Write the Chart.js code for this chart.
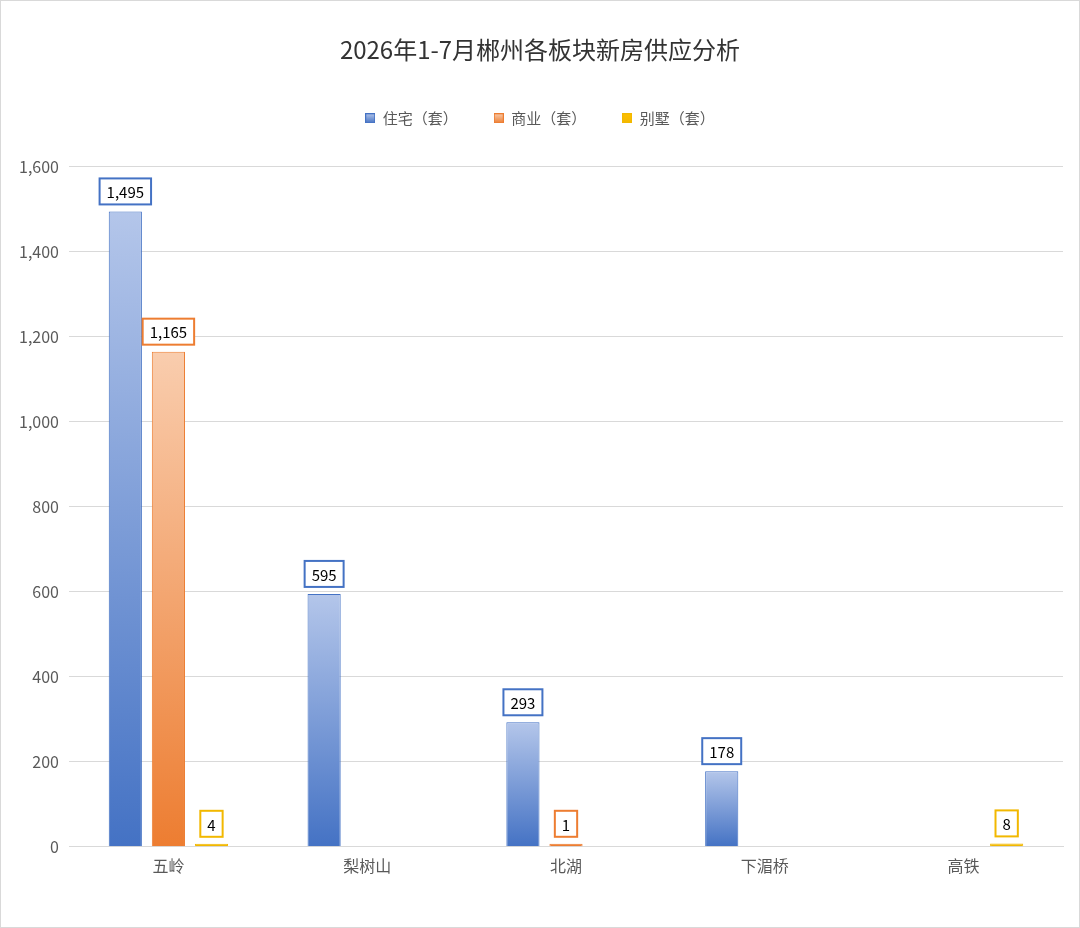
<!DOCTYPE html>
<html>
<head>
<meta charset="utf-8">
<script src="https://cdn.jsdelivr.net/npm/chart.js@4.4.1/dist/chart.umd.min.js"></script>
<style>
    html, body { margin: 0; padding: 0; background: #fff; }
    #wrap { width: 1078px; height: 926px; border: 1px solid #d9d9d9; }
</style>
</head>
<body>
<div id="wrap"><canvas id="supplyChart" width="1078" height="926"></canvas></div>
<script>
// Categories (board areas) and series values
const areas = ['五岭', '梨树山', '北湖', '下湄桥', '高铁'];
const residential = [1495, 595, 293, 178, null];   // 住宅（套）
const commercial = [1165, null, 1, null, null];    // 商业（套）
const villa = [4, null, null, null, 8];            // 别墅（套）
const yTicks = [0, 200, 400, 600, 800, 1000, 1200, 1400, 1600];

const FONT = '"Noto Sans CJK SC", "Noto Sans", sans-serif';

// Per-bar vertical gradient, light at top, full colour at the base
function barGradient(light, dark) {
    return function (context) {
        const chart = context.chart;
        const yScale = chart.scales.y;
        if (!chart.chartArea || !yScale || context.raw == null) return dark;
        const top = yScale.getPixelForValue(context.raw);
        const base = yScale.getPixelForValue(0);
        if (base - top < 4) return dark;
        const g = chart.ctx.createLinearGradient(0, top, 0, base);
        g.addColorStop(0, light);
        g.addColorStop(1, dark);
        return g;
    };
}

// Boxed value labels above each bar
const boxLabels = {
    id: 'boxLabels',
    afterDatasetsDraw(chart) {
        const ctx = chart.ctx;
        ctx.save();
        ctx.font = '15px ' + FONT;
        ctx.textAlign = 'center';
        ctx.textBaseline = 'middle';
        chart.data.datasets.forEach((ds, i) => {
            const meta = chart.getDatasetMeta(i);
            meta.data.forEach((bar, j) => {
                const v = ds.data[j];
                if (v == null) return;
                const text = v.toLocaleString('en-US');
                const w = ctx.measureText(text).width + 14;
                const h = 26;
                const x = bar.x - w / 2;
                const y = bar.y - 7 - h;
                ctx.fillStyle = '#fff';
                ctx.fillRect(x, y, w, h);
                ctx.strokeStyle = ds.labelBorder;
                ctx.lineWidth = 2;
                ctx.strokeRect(x, y, w, h);
                ctx.fillStyle = '#000';
                ctx.fillText(text, bar.x, y + h / 2 + 1);
            });
        });
        ctx.restore();
    }
};

// Extra room between the legend and the plot area
const legendGap = {
    id: 'legendGap',
    beforeInit(chart) {
        const origFit = chart.legend.fit;
        chart.legend.fit = function () {
            origFit.bind(chart.legend)();
            this.height += 31;
        };
    }
};

function legendSwatch(light, dark) {
    const c = document.createElement('canvas');
    c.width = 10; c.height = 10;
    const x = c.getContext('2d');
    const g = x.createLinearGradient(0, 0, 0, 10);
    g.addColorStop(0, light);
    g.addColorStop(1, dark);
    x.fillStyle = g;
    x.fillRect(0, 0, 10, 10);
    x.strokeStyle = dark;
    x.lineWidth = 1;
    x.strokeRect(0.5, 0.5, 9, 9);
    return c;
}

const ctx = document.getElementById('supplyChart').getContext('2d');
const supplyChart = new Chart(ctx, {
    type: 'bar',
    data: {
        labels: areas,
        datasets: [
            {
                label: '住宅（套）',
                data: residential,
                backgroundColor: barGradient('#b4c6ea', '#4472c4'),
                borderColor: '#4472c4',
                borderWidth: 1,
                labelBorder: '#4472c4',
                swatch: legendSwatch('#b4c6ea', '#4472c4')
            },
            {
                label: '商业（套）',
                data: commercial,
                backgroundColor: barGradient('#f9cdae', '#ed7d31'),
                borderColor: '#ed7d31',
                borderWidth: 1,
                labelBorder: '#ed7d31',
                swatch: legendSwatch('#f9cdae', '#ed7d31')
            },
            {
                label: '别墅（套）',
                data: villa,
                backgroundColor: '#f2b800',
                borderColor: '#f2b800',
                borderWidth: 1,
                labelBorder: '#f2b800',
                swatch: legendSwatch('#ffc000', '#f2b800')
            }
        ]
    },
    options: {
        responsive: false,
        animation: false,
        categoryPercentage: 0.65,
        barPercentage: 0.77,
        minBarLength: 3,
        layout: { padding: { left: 16, right: 16, top: 26, bottom: 41 } },
        plugins: {
            title: {
                display: true,
                text: '2026年1-7月郴州各板块新房供应分析',
                color: '#333333',
                font: { family: FONT, size: 24, weight: 'normal' },
                padding: { top: 8, bottom: 11 }
            },
            legend: {
                position: 'top',
                labels: {
                    color: '#595959',
                    font: { family: FONT, size: 15 },
                    boxWidth: 10,
                    boxHeight: 10,
                    padding: 36,
                    usePointStyle: true,
                    generateLabels(chart) {
                        return chart.data.datasets.map((ds, i) => ({
                            text: ds.label,
                            pointStyle: ds.swatch,
                            fillStyle: ds.borderColor,
                            strokeStyle: ds.borderColor,
                            lineWidth: 0,
                            fontColor: '#595959',
                            hidden: !chart.isDatasetVisible(i),
                            datasetIndex: i
                        }));
                    }
                }
            },
            tooltip: { enabled: false }
        },
        scales: {
            x: {
                grid: { display: false, drawTicks: false },
                border: { color: '#d9d9d9' },
                ticks: { color: '#595959', font: { family: FONT, size: 16 }, padding: 10 }
            },
            y: {
                min: 0,
                max: 1600,
                afterBuildTicks(scale) {
                    scale.ticks = yTicks.map(v => ({ value: v }));
                },
                afterFit(scale) { scale.width = 52; },
                grid: { color: '#d9d9d9', drawTicks: false },
                border: { display: false },
                ticks: {
                    color: '#595959',
                    font: { family: FONT, size: 16 },
                    padding: 10,
                    callback: v => v.toLocaleString('en-US')
                }
            }
        }
    },
    plugins: [boxLabels, legendGap]
});
</script>
</body>
</html>
